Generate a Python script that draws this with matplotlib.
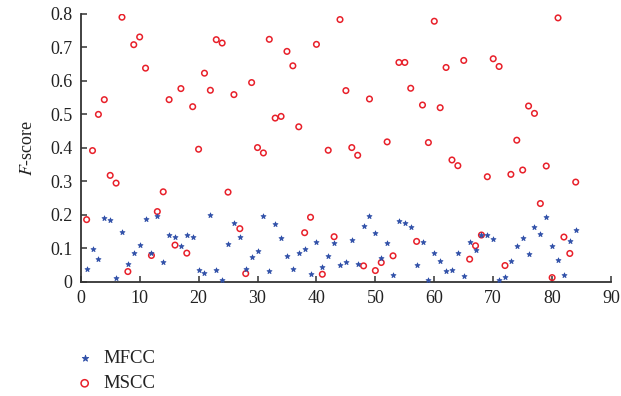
import matplotlib
matplotlib.use('Agg')
import matplotlib.pyplot as plt
from matplotlib.ticker import FuncFormatter

# indice de cada muestra (1..84)
idx = list(range(1, 85))

mfcc = [0.040, 0.099, 0.069, 0.191, 0.185, 0.012, 0.148, 0.054, 0.085, 0.110,
        0.189, 0.085, 0.197, 0.061, 0.141, 0.133, 0.108, 0.141, 0.134, 0.036,
        0.026, 0.201, 0.035, 0.007, 0.113, 0.177, 0.134, 0.039, 0.074, 0.093,
        0.197, 0.032, 0.172, 0.130, 0.076, 0.039, 0.087, 0.097, 0.025, 0.118,
        0.046, 0.078, 0.117, 0.051, 0.059, 0.125, 0.054, 0.166, 0.197, 0.147,
        0.070, 0.117, 0.022, 0.182, 0.177, 0.164, 0.052, 0.120, 0.005, 0.085,
        0.063, 0.033, 0.037, 0.085, 0.019, 0.120, 0.095, 0.140, 0.141, 0.128,
        0.007, 0.015, 0.064, 0.107, 0.132, 0.082, 0.165, 0.144, 0.194, 0.106,
        0.066, 0.021, 0.123, 0.156]

mscc = [0.186, 0.392, 0.500, 0.544, 0.318, 0.295, 0.790, 0.031, 0.708, 0.731,
        0.638, 0.079, 0.210, 0.269, 0.544, 0.110, 0.577, 0.086, 0.523, 0.396,
        0.623, 0.572, 0.723, 0.713, 0.268, 0.559, 0.159, 0.025, 0.595, 0.401,
        0.385, 0.724, 0.489, 0.494, 0.688, 0.645, 0.463, 0.147, 0.193, 0.709,
        0.023, 0.393, 0.135, 0.783, 0.571, 0.401, 0.378, 0.048, 0.546, 0.034,
        0.058, 0.418, 0.078, 0.655, 0.655, 0.578, 0.121, 0.528, 0.416, 0.778,
        0.520, 0.640, 0.364, 0.347, 0.661, 0.068, 0.108, 0.140, 0.314, 0.666,
        0.643, 0.049, 0.321, 0.423, 0.334, 0.525, 0.503, 0.234, 0.346, 0.013,
        0.788, 0.134, 0.085, 0.298]

x_ticks = list(range(0, 91, 10))
y_ticks = [0, 0.1, 0.2, 0.3, 0.4, 0.5, 0.6, 0.7, 0.8]

plt.rcParams['font.family'] = ['Liberation Serif', 'DejaVu Serif']
plt.rcParams['mathtext.fontset'] = 'stix'

BLUE = '#2f4fa8'
RED = '#e8202a'

fig = plt.figure(figsize=(6.21, 3.96), dpi=100)
ax = fig.add_axes([0.130, 0.288, 0.854, 0.677])

h1 = ax.scatter(idx, mfcc, marker='*', s=14, color=BLUE, linewidths=0.6, zorder=3)
h2 = ax.scatter(idx, mscc, marker='o', s=16, facecolors='none', edgecolors=RED,
                linewidths=1.1, zorder=2)

ax.set_xlim(0, 90)
ax.set_ylim(0, 0.8)
ax.set_xticks(x_ticks)
ax.set_yticks(y_ticks)
ax.yaxis.set_major_formatter(FuncFormatter(lambda v, p: '0' if v == 0 else f'{v:.1f}'))

for s in ['top', 'right']:
    ax.spines[s].set_visible(False)
for s in ['left', 'bottom']:
    ax.spines[s].set_color('#333333')
    ax.spines[s].set_linewidth(1.3)
ax.tick_params(direction='in', length=4, width=1.1, colors='#333333',
               labelcolor='#222222', labelsize=13, pad=6)

ax.set_ylabel(r'$F$-score', fontsize=13, color='#222222', labelpad=10)

fig.legend([h1, h2], ['MFCC', 'MSCC'], loc='upper left',
           bbox_to_anchor=(0.085, 0.16), frameon=False, fontsize=13.5,
           handletextpad=0.2, labelspacing=0.45, markerscale=1.3,
           handlelength=1.6, labelcolor='#222222')

plt.savefig('out.png', dpi=100)
plt.close()
